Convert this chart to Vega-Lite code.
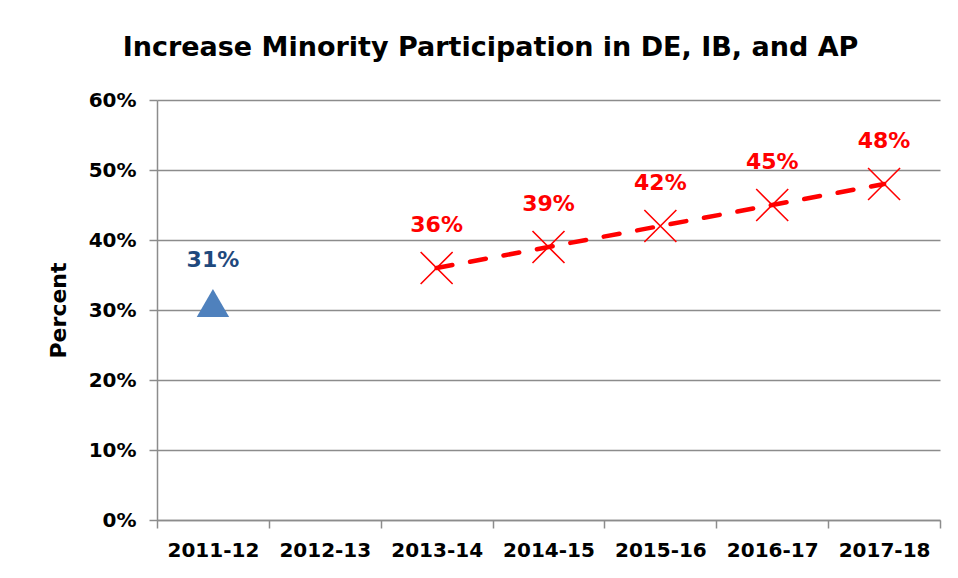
{
  "$schema": "https://vega.github.io/schema/vega-lite/v6.json",
  "autosize": {"type": "none"},
  "width": 783,
  "height": 420,
  "padding": {"left": 157, "top": 100, "right": 18, "bottom": 58},
  "background": "white",
  "title": {
    "text": "Increase Minority Participation in DE, IB, and AP",
    "font": "DejaVu Sans",
    "fontSize": 27,
    "fontWeight": "bold",
    "color": "#000000",
    "anchor": "middle",
    "frame": "group",
    "dx": -58,
    "offset": 28
  },
  "data": {
    "values": [
      {"year": "2011-12", "value": 0.31, "series": "Baseline"},
      {"year": "2013-14", "value": 0.36, "series": "Target"},
      {"year": "2014-15", "value": 0.39, "series": "Target"},
      {"year": "2015-16", "value": 0.42, "series": "Target"},
      {"year": "2016-17", "value": 0.45, "series": "Target"},
      {"year": "2017-18", "value": 0.48, "series": "Target"}
    ]
  },
  "encoding": {
    "x": {
      "field": "year",
      "type": "ordinal",
      "scale": {
        "type": "band",
        "domain": ["2011-12", "2012-13", "2013-14", "2014-15", "2015-16", "2016-17", "2017-18"],
        "paddingInner": 0,
        "paddingOuter": 0
      },
      "axis": {
        "title": null,
        "labelAngle": 0,
        "tickBand": "extent",
        "grid": false,
        "domainColor": "#8C8C8C",
        "domainWidth": 1.5,
        "tickColor": "#8C8C8C",
        "tickWidth": 1.5,
        "tickSize": 8,
        "labelFont": "DejaVu Sans",
        "labelFontSize": 20,
        "labelFontWeight": "bold",
        "labelColor": "#000000",
        "labelPadding": 12
      }
    },
    "y": {
      "field": "value",
      "type": "quantitative",
      "scale": {"domain": [0, 0.6], "nice": false},
      "axis": {
        "title": "Percent",
        "format": ".0%",
        "values": [0, 0.1, 0.2, 0.3, 0.4, 0.5, 0.6],
        "grid": true,
        "gridColor": "#8C8C8C",
        "gridWidth": 1.5,
        "domainColor": "#8C8C8C",
        "domainWidth": 1.5,
        "tickColor": "#8C8C8C",
        "tickWidth": 1.5,
        "tickSize": 8,
        "labelFont": "DejaVu Sans",
        "labelFontSize": 20,
        "labelFontWeight": "bold",
        "labelColor": "#000000",
        "labelPadding": 13,
        "titleFont": "DejaVu Sans",
        "titleFontSize": 22,
        "titleFontWeight": "bold",
        "titleColor": "#000000",
        "titlePadding": 18
      }
    }
  },
  "layer": [
    {
      "transform": [{"filter": "datum.series === 'Target'"}],
      "mark": {"type": "line", "color": "#FF0000", "strokeWidth": 4.5, "strokeDash": [16, 18], "strokeCap": "round"}
    },
    {
      "transform": [{"filter": "datum.series === 'Target'"}],
      "mark": {"type": "point", "shape": "M-1,-1L1,1M1,-1L-1,1", "filled": false, "stroke": "#FF0000", "strokeWidth": 1.6, "size": 1024, "opacity": 1}
    },
    {
      "transform": [{"filter": "datum.series === 'Baseline'"}],
      "mark": {"type": "point", "shape": "triangle-up", "filled": true, "color": "#4F81BD", "size": 1050, "opacity": 1}
    },
    {
      "mark": {"type": "text", "dy": -43, "baseline": "middle", "align": "center", "font": "DejaVu Sans", "fontSize": 22, "fontWeight": "bold"},
      "encoding": {
        "text": {"field": "value", "type": "quantitative", "format": ".0%"},
        "color": {
          "field": "series",
          "type": "nominal",
          "scale": {"domain": ["Baseline", "Target"], "range": ["#1F497D", "#FF0000"]},
          "legend": null
        }
      }
    }
  ],
  "config": {
    "view": {"stroke": null}
  }
}
